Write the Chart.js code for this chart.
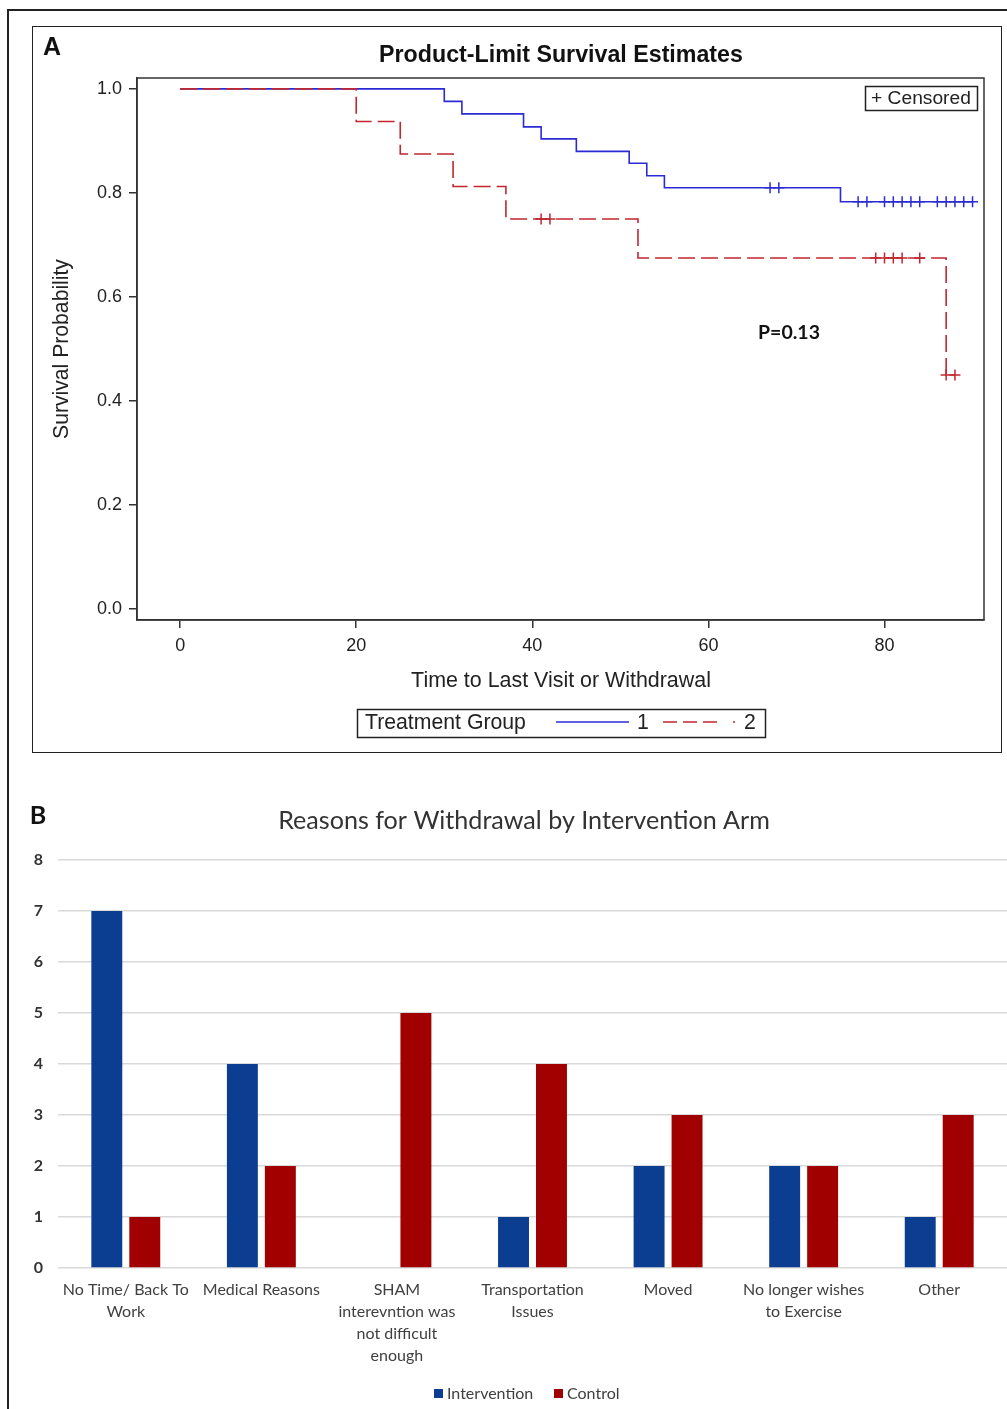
<!DOCTYPE html>
<html>
<head>
<meta charset="utf-8">
<script src="https://cdn.jsdelivr.net/npm/chart.js@4.4.1/dist/chart.umd.min.js"></script>
<style>
  html, body { margin:0; padding:0; background:#fff; }
  body { width:1007px; height:1409px; position:relative; overflow:hidden; }
  #frame { position:absolute; left:7px; top:9px; width:1100px; height:1500px; border-left:2px solid #222; border-top:2px solid #222; }
  #boxA  { position:absolute; left:32px; top:26px; width:970px; height:727px; box-sizing:border-box; border:1.6px solid #222; }
  canvas { position:absolute; left:0; }
  #survival { top:0; }
  #reasons  { top:760px; }
</style>
</head>
<body>
<div id="frame"></div>
<div id="boxA"></div>
<canvas id="survival" width="1007" height="760"></canvas>
<canvas id="reasons" width="1007" height="649"></canvas>

<script>
// ── Panel A : Kaplan-Meier data ──────────────────────────────────────────────
const X_TICKS = [0, 20, 40, 60, 80];
const Y_TICKS = [0, 0.2, 0.4, 0.6, 0.8, 1.0];

const TIME_1 = [0, 30, 32, 39, 41, 45, 51, 53, 55, 75, 90];
const SURV_1 = [1.0, 0.976, 0.952, 0.927, 0.904, 0.880, 0.857, 0.833, 0.810, 0.783, 0.783];
const CENS_1 = [67, 68, 77, 78, 80, 81, 82, 83, 84, 86, 87, 88, 89, 90];

const TIME_2 = [0, 20, 25, 31, 37, 52, 87, 88];
const SURV_2 = [1.0, 0.9375, 0.875, 0.8125, 0.75, 0.675, 0.45, 0.45];
const CENS_2 = [41, 42, 79, 80, 81, 82, 84, 87, 88];

// ── Panel B : withdrawal reasons ─────────────────────────────────────────────
const REASONS = [
  ["No Time/ Back To", "Work"],
  ["Medical Reasons"],
  ["SHAM", "interevntion was", "not difficult", "enough"],
  ["Transportation", "Issues"],
  ["Moved"],
  ["No longer wishes", "to Exercise"],
  ["Other"],
];
const INTERVENTION = [7, 4, 0, 1, 2, 2, 1];
const CONTROL      = [1, 2, 5, 4, 3, 2, 3];
const Y_MAX_B = 8;

// ── styles ───────────────────────────────────────────────────────────────────
const SANS  = "'Liberation Sans', Arial, sans-serif";
const LATO  = "Lato, 'Open Sans', sans-serif";
const BLUE_A = "#2b2bd3", RED_A = "#c1272f";
const BLUE_B = "#0b3e91", RED_B = "#a00000";
const INK = "#222";

const km   = (t, s) => t.map((x, i) => ({ x, y: s[i] }));
const survAt = (t, s, x) => { let v = s[0]; t.forEach((ti, i) => { if (ti <= x) v = s[i]; }); return v; };
const cens = (ct, t, s) => ct.map(x => ({ x, y: survAt(t, s, x) }));

function fitPx(ctx, str, weight, family, target) {
  ctx.font = `${weight} 100px ${family}`;
  return 100 * target / ctx.measureText(str).width;
}
function text(ctx, str, x, y, font, align = "left", color = INK) {
  ctx.font = font; ctx.fillStyle = color; ctx.textAlign = align; ctx.textBaseline = "middle";
  ctx.fillText(str, x, y);
}

// ── Panel A decorations ──────────────────────────────────────────────────────
const panelA = {
  id: "panelA",
  afterDraw(chart) {
    const { ctx, chartArea: a } = chart;
    ctx.save();
    ctx.strokeStyle = "#333"; ctx.lineWidth = 1.5;
    ctx.strokeRect(a.left, a.top, a.right - a.left, a.bottom - a.top);

    text(ctx, "A", 52, 48, `bold 25px ${SANS}`, "center", "#111");

    const tA = "Product-Limit Survival Estimates";
    text(ctx, tA, 561, 56, `bold ${fitPx(ctx, tA, "bold", SANS, 364)}px ${SANS}`, "center", "#111");

    const xT = "Time to Last Visit or Withdrawal";
    text(ctx, xT, 561, 681, `${fitPx(ctx, xT, "normal", SANS, 300)}px ${SANS}`, "center");

    const yT = "Survival Probability";
    const yPx = fitPx(ctx, yT, "normal", SANS, 180);
    ctx.save(); ctx.translate(62, 349); ctx.rotate(-Math.PI / 2);
    text(ctx, yT, 0, 0, `${yPx}px ${SANS}`, "center");
    ctx.restore();

    // censored key
    ctx.strokeStyle = INK; ctx.lineWidth = 1.5;
    ctx.strokeRect(865.5, 86.5, 112, 24);
    const cT = "+ Censored";
    text(ctx, cT, 871, 99, `${fitPx(ctx, cT, "normal", SANS, 100)}px ${SANS}`);

    // p value
    const pT = "P=0.13";
    text(ctx, pT, 758, 333, `bold ${fitPx(ctx, pT, "bold", LATO, 62)}px ${LATO}`, "left", "#111");

    // treatment legend
    ctx.strokeRect(357.5, 709.5, 408, 28);
    const gT = "Treatment Group";
    const gPx = fitPx(ctx, gT, "normal", SANS, 161);
    text(ctx, gT, 365, 723, `${gPx}px ${SANS}`);
    ctx.lineWidth = 1.5;
    ctx.strokeStyle = BLUE_A; ctx.beginPath(); ctx.moveTo(556, 722); ctx.lineTo(629, 722); ctx.stroke();
    text(ctx, "1", 643, 723, `${gPx}px ${SANS}`, "center");
    ctx.strokeStyle = RED_A; ctx.setLineDash([14, 6]);
    ctx.beginPath(); ctx.moveTo(663, 722); ctx.lineTo(722, 722); ctx.stroke();
    ctx.setLineDash([]);
    ctx.beginPath(); ctx.moveTo(733, 722); ctx.lineTo(735, 722); ctx.stroke();
    text(ctx, "2", 750, 723, `${gPx}px ${SANS}`, "center");
    ctx.restore();
  }
};

new Chart(document.getElementById("survival"), {
  type: "line",
  data: {
    datasets: [
      { label: "1", data: km(TIME_1, SURV_1), borderColor: BLUE_A, borderWidth: 1.6, stepped: true, pointRadius: 0, order: 3 },
      { label: "2", data: km(TIME_2, SURV_2), borderColor: RED_A, borderWidth: 1.6, borderDash: [17, 6], stepped: true, pointRadius: 0, order: 2 },
      { label: "c1", data: cens(CENS_1, TIME_1, SURV_1), showLine: false, pointStyle: "cross", order: 1,
        pointRadius: 5.5, pointBorderWidth: 1.5, borderColor: BLUE_A, pointBorderColor: BLUE_A },
      { label: "c2", data: cens(CENS_2, TIME_2, SURV_2), showLine: false, pointStyle: "cross", order: 0,
        pointRadius: 5.5, pointBorderWidth: 1.5, borderColor: RED_A, pointBorderColor: RED_A },
    ],
  },
  options: {
    responsive: false, animation: false,
    layout: { padding: { top: 78, right: 23, left: 0, bottom: 0 } },
    plugins: { legend: { display: false }, tooltip: { enabled: false } },
    scales: {
      x: {
        type: "linear", min: -4.9, max: 91.3,
        afterBuildTicks: s => { s.ticks = X_TICKS.map(v => ({ value: v })); },
        afterFit: s => { s.height = 140; },
        grid: { drawOnChartArea: false, tickLength: 8, color: "#333", lineWidth: 1.5 },
        border: { color: "#333", width: 1.5 },
        ticks: { font: { family: SANS, size: 18 }, color: INK, padding: 7 },
      },
      y: {
        min: -0.021, max: 1.021,
        afterBuildTicks: s => { s.ticks = Y_TICKS.map(v => ({ value: v })); },
        afterFit: s => { s.width = 137; },
        grid: { drawOnChartArea: false, tickLength: 8, color: "#333", lineWidth: 1.5 },
        border: { color: "#333", width: 1.5 },
        ticks: { font: { family: SANS, size: 18 }, color: INK, padding: 7, callback: v => v.toFixed(1) },
      },
    },
  },
  plugins: [panelA],
});

// ── Panel B decorations ──────────────────────────────────────────────────────
const panelB = {
  id: "panelB",
  afterDraw(chart) {
    const { ctx } = chart;
    ctx.save();
    text(ctx, "B", 38, 56, `bold 25px ${LATO}`, "center", "#111");
    const tB = "Reasons for Withdrawal by Intervention Arm";
    text(ctx, tB, 524, 61, `${fitPx(ctx, tB, "normal", LATO, 492)}px ${LATO}`, "center", "#333");

    // legend
    const lf = `16px ${LATO}`;
    ctx.fillStyle = BLUE_B; ctx.fillRect(434, 629, 9, 9);
    text(ctx, "Intervention", 447, 634, lf, "left", "#404040");
    ctx.fillStyle = RED_B; ctx.fillRect(554, 629, 9, 9);
    text(ctx, "Control", 567, 634, lf, "left", "#404040");
    ctx.restore();
  }
};

new Chart(document.getElementById("reasons"), {
  type: "bar",
  data: {
    labels: REASONS,
    datasets: [
      { label: "Intervention", data: INTERVENTION, backgroundColor: BLUE_B },
      { label: "Control", data: CONTROL, backgroundColor: RED_B },
    ],
  },
  options: {
    responsive: false, animation: false,
    datasets: { bar: { categoryPercentage: 0.56, barPercentage: 0.815 } },
    layout: { padding: { top: 100, right: 0, left: 0, bottom: 0 } },
    plugins: { legend: { display: false }, tooltip: { enabled: false } },
    scales: {
      x: {
        grid: { display: false, drawTicks: false }, border: { display: false },
        afterFit: s => { s.height = 141; },
        ticks: { font: { family: LATO, size: 16, lineHeight: 1.375 }, color: "#404040", padding: 11, autoSkip: false, maxRotation: 0 },
      },
      y: {
        min: 0, max: Y_MAX_B,
        afterFit: s => { s.width = 58; },
        grid: { color: "#d9d9d9", lineWidth: 1.5, drawTicks: false },
        border: { display: false },
        ticks: { stepSize: 1, font: { family: LATO, size: 16, weight: "bold" }, color: "#333", padding: 15 },
      },
    },
  },
  plugins: [panelB],
});
</script>
</body>
</html>
